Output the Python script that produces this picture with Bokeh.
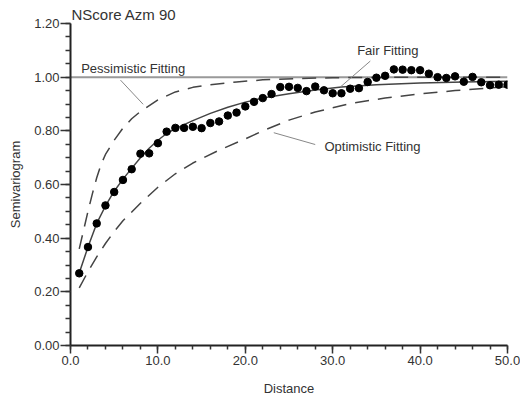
from bokeh.plotting import figure
from bokeh.models import Label, Range1d, NumeralTickFormatter, SingleIntervalTicker, ColumnDataSource
from bokeh.embed import file_html
from bokeh.resources import INLINE

# experimental semivariogram (lag distance, value)
lag = list(range(1, 51))
gamma = [0.269, 0.367, 0.455, 0.522, 0.572, 0.617, 0.657, 0.715, 0.716, 0.754,
         0.797, 0.811, 0.811, 0.815, 0.810, 0.829, 0.835, 0.857, 0.868, 0.891,
         0.908, 0.922, 0.937, 0.963, 0.964, 0.960, 0.948, 0.965, 0.951, 0.940,
         0.940, 0.957, 0.959, 0.982, 0.998, 1.005, 1.029, 1.028, 1.026, 1.026,
         1.013, 1.000, 0.997, 1.003, 0.983, 1.001, 0.981, 0.970, 0.972, 0.972]

# fitted models
fair_x = [1, 2, 3, 4, 5, 6, 7, 8, 9, 10, 11, 12, 14, 16, 18, 20, 22, 25, 28, 31, 35, 40, 45, 50]
fair_y = [0.27, 0.367, 0.455, 0.52, 0.575, 0.62, 0.66, 0.70, 0.735, 0.765, 0.79, 0.808,
          0.838, 0.865, 0.888, 0.907, 0.922, 0.938, 0.952, 0.963, 0.972, 0.978, 0.982, 0.985]

pess_x = [1, 1.5, 2, 2.5, 3, 3.5, 4, 5, 6, 7, 8, 10, 12, 14, 16, 19, 22, 26, 30, 35, 40, 50]
pess_y = [0.36, 0.43, 0.50, 0.565, 0.625, 0.675, 0.712, 0.765, 0.81, 0.845, 0.872, 0.915,
          0.945, 0.962, 0.972, 0.982, 0.99, 0.995, 0.998, 0.999, 1.0, 1.0]

opt_x = [1, 2, 3, 4, 5, 6, 8, 10, 12, 14, 17, 20, 22, 25, 28, 32, 36, 40, 44, 48, 50]
opt_y = [0.215, 0.275, 0.33, 0.38, 0.425, 0.465, 0.53, 0.59, 0.64, 0.68, 0.728, 0.77,
         0.80, 0.84, 0.87, 0.902, 0.922, 0.938, 0.95, 0.96, 0.965]

sill_x = [0, 50]
sill_y = [1.0, 1.0]

FONT = "Liberation Sans"
TXT = "#333333"

p = figure(width=520, height=398, output_backend="svg", toolbar_location=None,
           x_range=Range1d(0, 50), y_range=Range1d(0, 1.2 + 1e-9),
           min_border_left=70, min_border_right=13, min_border_top=23, min_border_bottom=52)
p.outline_line_color = None
p.grid.visible = False
p.background_fill_color = "white"

p.title.text = "NScore Azm 90"
p.title.text_font = FONT
p.title.text_font_size = "15px"
p.title.text_font_style = "normal"
p.title.text_color = TXT
p.title.align = "left"
p.title.offset = 1
p.title.standoff = 2

# axes
p.xaxis.ticker = SingleIntervalTicker(interval=10, num_minor_ticks=5)
p.yaxis.ticker = SingleIntervalTicker(interval=0.2, num_minor_ticks=4)
p.xaxis.formatter = NumeralTickFormatter(format="0.0")
p.yaxis.formatter = NumeralTickFormatter(format="0.00")
for ax in (p.xaxis, p.yaxis):
    ax.axis_line_color = "#222222"
    ax.axis_line_width = 2
    ax.major_tick_line_color = "#333333"
    ax.minor_tick_line_color = "#333333"
    ax.major_tick_line_width = 1.5
    ax.minor_tick_line_width = 1.5
    ax.major_tick_in = 0
    ax.minor_tick_in = 0
    ax.major_label_text_font = FONT
    ax.major_label_text_font_size = "13px"
    ax.major_label_text_color = TXT
    ax.axis_label_text_font = FONT
    ax.axis_label_text_font_size = "13px"
    ax.axis_label_text_font_style = "normal"
    ax.axis_label_text_color = TXT
p.xaxis.major_tick_out = 8
p.xaxis.minor_tick_out = 4
p.yaxis.major_tick_out = 10
p.yaxis.minor_tick_out = 5
p.xaxis.major_label_standoff = 2
p.yaxis.major_label_standoff = 1
p.yaxis.major_label_text_baseline = "alphabetic"
p.xaxis.axis_label = "Distance"
p.yaxis.axis_label = "Semivariogram"
p.xaxis.axis_label_standoff = 13
p.yaxis.axis_label_standoff = 8

# sill
p.line(sill_x, sill_y, line_color="#999999", line_width=2)
# models
p.line(pess_x, pess_y, line_color="#444444", line_width=1.5, line_dash="14 9")
p.line(opt_x, opt_y, line_color="#444444", line_width=1.5, line_dash="14 9")
p.line(fair_x, fair_y, line_color="#444444", line_width=1.5)
# experimental points
p.scatter(lag, gamma, size=7.5, fill_color="black", line_color="black")

# leader lines
lead = ColumnDataSource(dict(x0=[5.72, 34.3, 23.26], y0=[0.989, 1.06, 0.793],
                             x1=[8.31, 30.9, 28.0], y1=[0.899, 0.964, 0.749]))
p.segment(x0="x0", y0="y0", x1="x1", y1="y1", source=lead, line_color="#888888", line_width=1)

def lab(x, y, t, size="13px"):
    p.add_layout(Label(x=x, y=y, text=t, text_font=FONT, text_font_size=size,
                       text_color=TXT, text_baseline="middle", text_align="left"))

lab(1.22, 1.032, "Pessimistic Fitting")
lab(32.8, 1.10, "Fair Fitting")
lab(29.06, 0.743, "Optimistic Fitting")

open("out.html", "w").write(file_html(p, INLINE))
